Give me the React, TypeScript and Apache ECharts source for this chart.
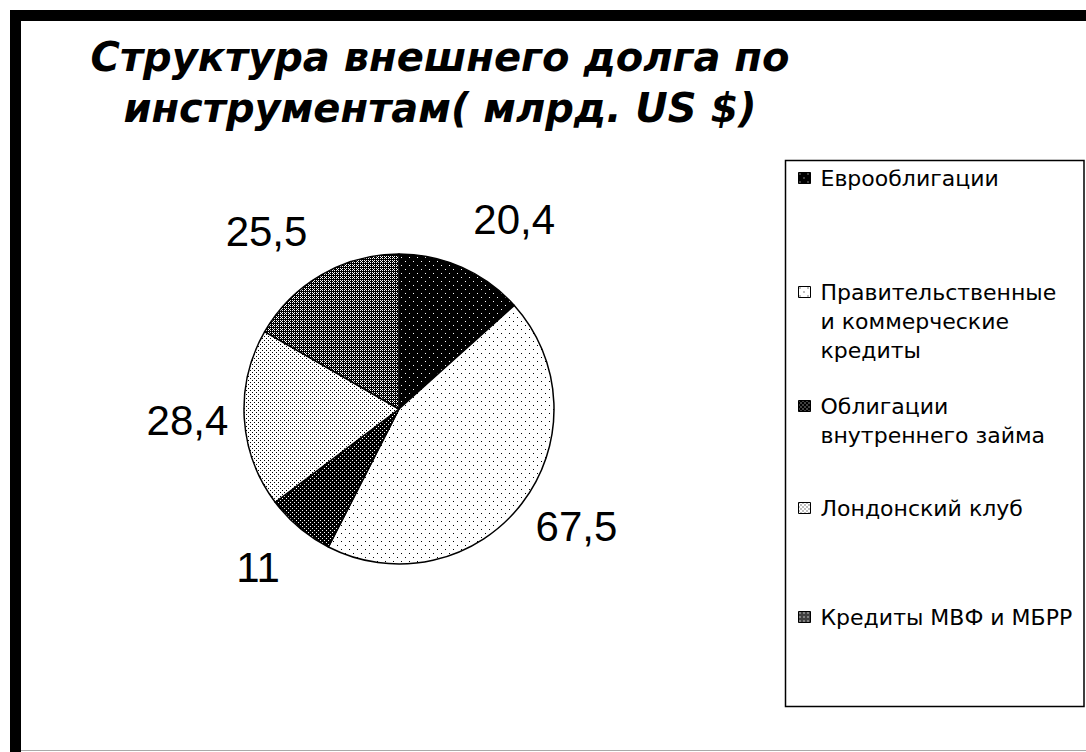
import React, { useEffect, useRef } from 'react';
import * as echarts from 'echarts';

const categories = [
  'Еврооблигации',
  'Правительственные и коммерческие кредиты',
  'Облигации внутреннего займа',
  'Лондонский клуб',
  'Кредиты МВФ и МБРР',
];
const legendLines = [
  ['Еврооблигации'],
  ['Правительственные', 'и коммерческие', 'кредиты'],
  ['Облигации', 'внутреннего займа'],
  ['Лондонский клуб'],
  ['Кредиты МВФ и МБРР'],
];
const values = [20.4, 67.5, 11, 28.4, 25.5];
const titleLines = ['Структура внешнего долга по', 'инструментам( млрд. US $)'];

// style-only helpers
const labelNudges = [[-6, -21], [-15, 5], [5, 17], [19, 0], [6, -17]];
const legendFirstLineY = [178, 292, 406, 508, 617];
const LEGEND_LH = 29;

function makeTile(size: number, bg: string, fg: string, pts: number[][]) {
  const c = document.createElement('canvas');
  c.width = size;
  c.height = size;
  const ctx = c.getContext('2d')!;
  ctx.fillStyle = bg;
  ctx.fillRect(0, 0, size, size);
  ctx.fillStyle = fg;
  pts.forEach(([x, y]) => ctx.fillRect(x, y, 1, 1));
  return { image: c, repeat: 'repeat', imageWidth: size, imageHeight: size } as any;
}

export default function App() {
  const ref = useRef<HTMLDivElement>(null);
  useEffect(() => {
    if (!ref.current) return;
    const chart = echarts.init(ref.current, null, { renderer: 'svg' });
    const patterns = [
      makeTile(8, '#000', '#fff', [[1, 1], [5, 5]]),
      makeTile(8, '#fff', '#000', [[1, 1], [5, 5]]),
      makeTile(4, '#000', '#fff', [[0, 0], [2, 2]]),
      makeTile(4, '#fff', '#000', [[0, 0], [2, 2]]),
      makeTile(4, '#000', '#fff', [[0, 0], [2, 0], [1, 1], [0, 2], [2, 2]]),
    ];
    const option: any = {
      animation: false,
      backgroundColor: '#fff',
      title: {
        text: titleLines.join('\n'),
        left: 440,
        top: 31,
        padding: 0,
        textAlign: 'center',
        textStyle: {
          fontFamily: 'DejaVu Sans',
          fontSize: 40,
          fontWeight: 'bold',
          fontStyle: 'italic',
          lineHeight: 51,
          color: '#000',
        },
      },
      graphic: [
        { type: 'rect', shape: { x: 10, y: 10, width: 1076, height: 11 }, style: { fill: '#000' } },
        { type: 'rect', shape: { x: 10, y: 10, width: 11, height: 742 }, style: { fill: '#000' } },
        { type: 'line', shape: { x1: 21, y1: 750.5, x2: 1086, y2: 750.5 }, style: { stroke: '#aaa', lineWidth: 1 } },
        {
          type: 'rect',
          shape: { x: 785.5, y: 160.5, width: 298.5, height: 546 },
          style: { fill: 'none', stroke: '#000', lineWidth: 1.5 },
        },
      ],
      legend: legendLines.map((lines, i) => ({
        data: [categories[i]],
        left: 798,
        top: legendFirstLineY[i] - ((2 * lines.length - 1) * LEGEND_LH) / 2,
        orient: 'vertical',
        padding: 0,
        icon: 'rect',
        itemWidth: 12,
        itemHeight: 11,
        selectedMode: false,
        formatter: () => new Array(lines.length - 1).fill('').concat(lines).join('\n'),
        itemStyle: { borderColor: '#000', borderWidth: 1 },
        textStyle: {
          fontFamily: 'DejaVu Sans',
          fontSize: 22,
          lineHeight: LEGEND_LH,
          color: '#000',
          padding: [0, 0, 0, 5],
        },
      })),
      series: [
        {
          type: 'pie',
          center: [399, 409],
          radius: 155,
          startAngle: 90,
          clockwise: true,
          avoidLabelOverlap: false,
          emphasis: { disabled: true },
          itemStyle: { borderColor: '#000', borderWidth: 1.5 },
          label: {
            show: true,
            position: 'outside',
            formatter: (p: any) => String(p.value).replace('.', ','),
            fontFamily: 'Liberation Sans, Arial, sans-serif',
            fontSize: 42,
            color: '#000',
            distanceToLabelLine: 5,
          },
          labelLine: { show: false, length: 30, length2: 0 },
          labelLayout: (p: any) => ({ dx: labelNudges[p.dataIndex][0], dy: labelNudges[p.dataIndex][1] }),
          data: categories.map((name, i) => ({ name, value: values[i], itemStyle: { color: patterns[i] } })),
        },
      ],
    };
    chart.setOption(option);
    return () => chart.dispose();
  }, []);
  return (
    <div
      ref={ref}
      style={{ position: 'absolute', left: 0, top: 0, width: 1086, height: 752, background: '#fff' }}
    />
  );
}
